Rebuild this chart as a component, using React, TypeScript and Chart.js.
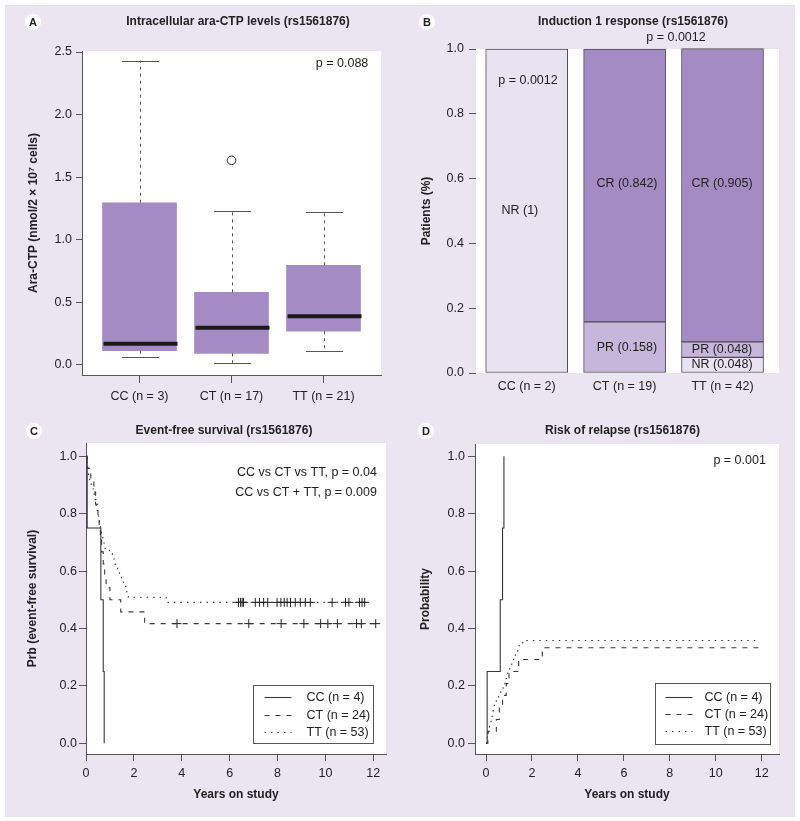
import React, { useEffect, useRef } from 'react';
import { Chart, registerables } from 'chart.js';
Chart.register(...registerables);

const FONT = '"Liberation Sans", Arial, Helvetica, sans-serif';
const TXT = '#222222';
const AXIS = '#555555';
const LAV = '#ebe5f1';
const BOX = '#a48bc4';
const PR_FILL = '#c7b6db';
const NR_FILL = '#e8e3f0';
const LINE = '#383838';

// ---------- Panel A: intracellular ara-CTP (boxplot) ----------
const groupsA = ['CC (n = 3)', 'CT (n = 17)', 'TT (n = 21)'];
const whiskerLowA = [0.064, 0.013, 0.112];
const q1A = [0.114, 0.093, 0.27];
const medianA = [0.17, 0.298, 0.39];
const q3A = [1.296, 0.58, 0.796];
const whiskerHighA = [2.43, 1.227, 1.222];
const outlierGroupA = [2];
const outlierValueA = [1.635];
const yTicksA = [0, 0.5, 1, 1.5, 2, 2.5];
const pValueA = 'p = 0.088';

// ---------- Panel B: induction 1 response (stacked bars) ----------
const groupsB = ['CC (n = 2)', 'CT (n = 19)', 'TT (n = 42)'];
const nrB = [1, null, 0.048];
const prB = [null, 0.158, 0.048];
const crB = [null, 0.842, 0.905];
const yTicksB = [0, 0.2, 0.4, 0.6, 0.8, 1];
const pValueB = 'p = 0.0012';

// ---------- Panel C: event-free survival ----------
const ccEfsTime = [0, 0.05, 0.62, 0.72, 0.76];
const ccEfsSurv = [1, 0.75, 0.5, 0.25, 0];
const ctEfsTime = [0, 0.05, 0.2, 0.33, 0.4, 0.5, 0.55, 0.6, 0.65, 0.72, 0.78, 0.84, 1.0, 1.45, 2.45, 12.15];
const ctEfsSurv = [1, 0.958, 0.917, 0.875, 0.833, 0.792, 0.75, 0.708, 0.667, 0.625, 0.583, 0.542, 0.5, 0.458, 0.417, 0.417];
const ttEfsTime = [0, 0.02, 0.05, 0.08, 0.1, 0.15, 0.22, 0.3, 0.36, 0.42, 0.46, 0.49, 0.52, 0.56, 0.6, 0.64, 0.7, 0.8, 0.98, 1.1, 1.22, 1.32, 1.4, 1.48, 1.56, 1.66, 1.77, 3.35, 11.8];
const ttEfsSurv = [1, 0.981, 0.962, 0.943, 0.925, 0.906, 0.887, 0.868, 0.849, 0.83, 0.811, 0.792, 0.774, 0.755, 0.736, 0.717, 0.698, 0.679, 0.66, 0.642, 0.623, 0.604, 0.585, 0.566, 0.547, 0.528, 0.509, 0.491, 0.491];
const ctEfsCensor = [3.8, 6.8, 8.15, 9.1, 9.8, 10.1, 10.5, 11.3, 11.5, 12.1];
const ttEfsCensor = [6.37, 6.45, 6.52, 6.58, 7.07, 7.25, 7.42, 7.59, 7.98, 8.14, 8.28, 8.4, 8.54, 8.74, 8.95, 9.16, 9.37, 10.28, 10.84, 10.98, 11.42, 11.53, 11.64];
const efsNotes = ['CC vs CT vs TT, p = 0.04', 'CC vs CT + TT, p = 0.009'];

// ---------- Panel D: risk of relapse ----------
const ccRelTime = [0, 0.05, 0.62, 0.72, 0.78];
const ccRelProb = [0, 0.25, 0.5, 0.75, 1.0];
const ctRelTime = [0, 0.08, 0.45, 0.58, 0.72, 0.88, 1.0, 1.42, 2.45, 11.9];
const ctRelProb = [0, 0.042, 0.083, 0.125, 0.167, 0.208, 0.25, 0.292, 0.333, 0.333];
const ttRelTime = [0, 0.02, 0.05, 0.1, 0.15, 0.22, 0.3, 0.36, 0.45, 0.55, 0.64, 0.74, 0.83, 0.93, 1.03, 1.12, 1.2, 1.28, 1.38, 1.6, 11.8];
const ttRelProb = [0, 0.019, 0.038, 0.057, 0.075, 0.094, 0.113, 0.132, 0.151, 0.17, 0.189, 0.208, 0.226, 0.245, 0.264, 0.283, 0.302, 0.321, 0.34, 0.358, 0.358];
const pValueD = 'p = 0.001';

const kmLabels = ['CC (n = 4)', 'CT (n = 24)', 'TT (n = 53)'];
const xTicksKM = [0, 2, 4, 6, 8, 10, 12];
const yTicksKM = [0, 0.2, 0.4, 0.6, 0.8, 1];

// ---------- helpers ----------
const f = (size: number, weight: string = 'normal') => ({ family: FONT, size, weight });
const pts = (xs: number[], ys: number[]) => xs.map((x, i) => ({ x, y: ys[i] }));
const levelAt = (ts: number[], vs: number[], t: number) => {
  let v = vs[0];
  for (let i = 0; i < ts.length; i++) if (ts[i] <= t) v = vs[i];
  return v;
};
const fixedTicks = (values: number[]) => (scale: any) => {
  scale.ticks = values.map((v) => ({ value: v }));
};

function yScale(o: any) {
  return {
    type: 'linear', position: 'left', min: o.min, max: o.max, bounds: 'data',
    stacked: !!o.stacked,
    afterBuildTicks: fixedTicks(o.ticks),
    afterFit: (s: any) => { s.width = o.width; },
    grid: { display: true, drawOnChartArea: false, drawTicks: true, tickLength: o.tickLength, tickColor: AXIS, tickWidth: 1 },
    border: { display: o.border !== false, color: AXIS, width: 1 },
    ticks: { autoSkip: false, maxRotation: 0, minRotation: 0, font: f(12.5), color: TXT, padding: o.pad, callback: (v: any) => Number(v).toFixed(1) },
    title: { display: true, text: o.title, font: f(12, 'bold'), color: TXT, padding: { top: o.titlePad, bottom: 0 } },
  };
}

function xScale(o: any) {
  const ticksOn = o.drawTicks !== false;
  return {
    type: 'linear', position: 'bottom', min: o.min, max: o.max, bounds: 'data', offset: false,
    stacked: !!o.stacked,
    afterBuildTicks: fixedTicks(o.ticks),
    afterFit: (s: any) => { s.height = o.height; },
    grid: { display: ticksOn, offset: false, drawOnChartArea: false, drawTicks: ticksOn, tickLength: ticksOn ? o.tickLength : 0, tickColor: AXIS, tickWidth: 1 },
    border: { display: o.border !== false, color: AXIS, width: 1 },
    ticks: { autoSkip: false, maxRotation: 0, minRotation: 0, font: f(12.5), color: TXT, padding: o.pad, callback: o.callback },
    title: o.title
      ? { display: true, text: o.title, font: f(12, 'bold'), color: TXT, padding: { top: 0, bottom: o.titlePad } }
      : { display: false },
  };
}

// Panel decorations: plot background, panel letter, title, notes, legend
function makeDecor(cfg: any) {
  return {
    id: 'panelDecor',
    beforeDraw(chart: any) {
      const { ctx, chartArea: a } = chart;
      ctx.save();
      ctx.fillStyle = '#ffffff';
      ctx.fillRect(a.left, a.top, a.right - a.left, a.bottom - a.top);
      ctx.restore();
    },
    afterDraw(chart: any) {
      const { ctx, chartArea: a } = chart;
      const xs = chart.scales.x, ys = chart.scales.y;
      ctx.save();
      // letter badge
      ctx.fillStyle = '#ffffff';
      ctx.beginPath();
      ctx.arc(cfg.letterX, cfg.letterY, 8, 0, Math.PI * 2);
      ctx.fill();
      ctx.fillStyle = TXT;
      ctx.textAlign = 'center';
      ctx.textBaseline = 'middle';
      ctx.font = `bold 11px ${FONT}`;
      ctx.fillText(cfg.letter, cfg.letterX, cfg.letterY + 0.5);
      // title
      ctx.font = `bold 12px ${FONT}`;
      ctx.fillText(cfg.title, cfg.titleX, cfg.titleY);
      // notes in data coordinates
      ctx.font = `12.5px ${FONT}`;
      (cfg.notes || []).forEach((n: any) => {
        ctx.textAlign = n.align || 'center';
        ctx.fillText(n.text, xs.getPixelForValue(n.x), ys.getPixelForValue(n.y));
      });
      // legend
      if (cfg.legend) {
        const L = cfg.legend;
        const items = chart.data.datasets.filter((d: any) => d.inLegend);
        const bx = Math.round(a.right - L.insetRight - L.w) + 0.5;
        const by = Math.round(a.bottom - L.insetBottom - L.h) + 0.5;
        ctx.fillStyle = '#ffffff';
        ctx.fillRect(bx, by, L.w, L.h);
        ctx.strokeStyle = AXIS;
        ctx.lineWidth = 1;
        ctx.setLineDash([]);
        ctx.strokeRect(bx, by, L.w, L.h);
        items.forEach((d: any, k: number) => {
          const cy = Math.round(by + L.h / 2 + (k - (items.length - 1) / 2) * L.row) + 0.5;
          ctx.strokeStyle = d.borderColor;
          ctx.lineWidth = d.borderWidth;
          ctx.setLineDash(d.borderDash || []);
          ctx.beginPath();
          ctx.moveTo(bx + L.sampleStart, cy);
          ctx.lineTo(bx + L.sampleEnd, cy);
          ctx.stroke();
          ctx.setLineDash([]);
          ctx.fillStyle = TXT;
          ctx.textAlign = 'left';
          ctx.textBaseline = 'middle';
          ctx.font = `12.5px ${FONT}`;
          ctx.fillText(d.label, bx + L.textStart, cy);
        });
      }
      ctx.restore();
    },
  };
}

// Whiskers, caps and medians for the boxplot
const boxWhiskers = {
  id: 'boxWhiskers',
  afterDatasetsDraw(chart: any) {
    const { ctx } = chart;
    const xs = chart.scales.x, ys = chart.scales.y;
    const boxW = 74, capW = 37;
    ctx.save();
    groupsA.forEach((_, i) => {
      const cx = Math.round(xs.getPixelForValue(i + 1)) + 0.5;
      const yLo = ys.getPixelForValue(whiskerLowA[i]);
      const yQ1 = ys.getPixelForValue(q1A[i]);
      const yMed = ys.getPixelForValue(medianA[i]);
      const yQ3 = ys.getPixelForValue(q3A[i]);
      const yHi = ys.getPixelForValue(whiskerHighA[i]);
      ctx.strokeStyle = AXIS;
      ctx.lineWidth = 1;
      ctx.setLineDash([3, 4]);
      ctx.beginPath();
      ctx.moveTo(cx, yQ3); ctx.lineTo(cx, yHi);
      ctx.moveTo(cx, yQ1); ctx.lineTo(cx, yLo);
      ctx.stroke();
      ctx.setLineDash([]);
      ctx.beginPath();
      ctx.moveTo(cx - capW / 2, Math.round(yHi) + 0.5); ctx.lineTo(cx + capW / 2, Math.round(yHi) + 0.5);
      ctx.moveTo(cx - capW / 2, Math.round(yLo) + 0.5); ctx.lineTo(cx + capW / 2, Math.round(yLo) + 0.5);
      ctx.stroke();
      ctx.strokeStyle = '#1a1a1a';
      ctx.lineWidth = 4;
      ctx.beginPath();
      ctx.moveTo(cx - boxW / 2, yMed); ctx.lineTo(cx + boxW / 2, yMed);
      ctx.stroke();
    });
    ctx.restore();
  },
};

const baseOpts = {
  animation: false,
  responsive: false,
  maintainAspectRatio: false,
  devicePixelRatio: 1,
  events: [],
};

function configA(): any {
  return {
    type: 'bar',
    data: {
      datasets: [
        {
          type: 'bar', label: 'IQR',
          data: groupsA.map((_, i) => ({ x: i + 1, y: [q1A[i], q3A[i]] })),
          backgroundColor: BOX, borderWidth: 0, barThickness: 74,
        },
        {
          type: 'scatter', label: 'Outliers',
          data: outlierGroupA.map((g, i) => ({ x: g, y: outlierValueA[i] })),
          pointRadius: 4.3, pointBackgroundColor: '#ffffff', pointBorderColor: '#333333', pointBorderWidth: 1,
        },
      ],
    },
    options: {
      ...baseOpts,
      layout: { padding: { left: 10, right: 19, top: 51, bottom: 5 } },
      scales: {
        x: xScale({ min: 0.375, max: 3.625, ticks: [1, 2, 3], height: 30, tickLength: 8, pad: 6, callback: (_v: any, i: number) => groupsA[i] }),
        y: yScale({ min: -0.08, max: 2.508, ticks: yTicksA, width: 72, tickLength: 6, pad: 4, title: 'Ara-CTP (nmol/2 × 10⁷ cells)', titlePad: 16.3 }),
      },
      plugins: { legend: { display: false }, tooltip: { enabled: false } },
    },
    plugins: [
      makeDecor({
        letter: 'A', letterX: 33, letterY: 22,
        title: 'Intracellular ara-CTP levels (rs1561876)', titleX: 238, titleY: 22,
        notes: [{ text: pValueA, x: 3.487, y: 2.404, align: 'right' }],
      }),
      boxWhiskers,
    ],
  };
}

function configB(): any {
  const series: [string, (number | null)[], string][] = [['NR', nrB, NR_FILL], ['PR', prB, PR_FILL], ['CR', crB, BOX]];
  // label anchors (layout, in data units)
  const labelAt: Record<string, [number, number]> = {
    'NR-0': [0.93, 0.5], 'PR-1': [2.024, 0.08], 'CR-1': [2.024, 0.586],
    'NR-2': [2.995, 0.027], 'PR-2': [2.995, 0.073], 'CR-2': [2.995, 0.586],
  };
  const notes: any[] = [
    { text: pValueB, x: 1.013, y: 0.902 },
    { text: pValueB, x: 2.525, y: 1.035 },
  ];
  series.forEach(([name, vals]) => vals.forEach((v, i) => {
    const p = labelAt[`${name}-${i}`];
    if (v != null && p) notes.push({ text: `${name} (${v})`, x: p[0], y: p[1] });
  }));
  return {
    type: 'bar',
    data: {
      datasets: series.map(([name, vals, color]) => ({
        label: name,
        data: vals.map((v, i) => ({ x: i + 1, y: v })).filter((d) => d.y != null),
        backgroundColor: color, borderColor: '#4d4d4d', borderWidth: 1, borderSkipped: false,
        barThickness: 82, clip: 4,
      })),
    },
    options: {
      ...baseOpts,
      layout: { padding: { left: 10, right: 21, top: 49, bottom: 5 } },
      scales: {
        x: xScale({ min: 0.482, max: 3.577, ticks: [1, 2, 3], height: 32, drawTicks: false, border: false, pad: 6.5, stacked: true, callback: (_v: any, i: number) => groupsB[i] }),
        y: yScale({ min: 0, max: 1, ticks: yTicksB, width: 66, tickLength: 7, pad: 5, border: false, stacked: true, title: 'Patients (%)', titlePad: 9.3 }),
      },
      plugins: { legend: { display: false }, tooltip: { enabled: false } },
    },
    plugins: [
      makeDecor({
        letter: 'B', letterX: 27, letterY: 22,
        title: 'Induction 1 response (rs1561876)', titleX: 233, titleY: 22,
        notes,
      }),
    ],
  };
}

function kmLine(label: string, data: any[], dash: number[]) {
  return {
    label, data, showLine: true, stepped: 'before', inLegend: true,
    borderColor: LINE, borderWidth: 1.1, borderDash: dash, pointRadius: 0, fill: false,
  };
}
function censorSet(label: string, data: any[]) {
  return {
    label, data, showLine: false, pointStyle: 'cross', pointRadius: 4.5,
    pointBorderColor: '#222222', pointBorderWidth: 1, borderColor: '#222222',
  };
}

const DASH = [5, 6];
const DOT = [1.5, 5];

function configC(): any {
  return {
    type: 'scatter',
    data: {
      datasets: [
        kmLine(kmLabels[0], pts(ccEfsTime, ccEfsSurv), []),
        kmLine(kmLabels[1], pts(ctEfsTime, ctEfsSurv), DASH),
        kmLine(kmLabels[2], pts(ttEfsTime, ttEfsSurv), DOT),
        censorSet('CT censored', ctEfsCensor.map((t) => ({ x: t, y: levelAt(ctEfsTime, ctEfsSurv, t) }))),
        censorSet('TT censored', ttEfsCensor.map((t) => ({ x: t, y: levelAt(ttEfsTime, ttEfsSurv, t) }))),
      ],
    },
    options: {
      ...baseOpts,
      layout: { padding: { left: 10, right: 14, top: 33, bottom: 5 } },
      scales: {
        x: xScale({ min: 0, max: 12.53, ticks: xTicksKM, height: 62, tickLength: 7, pad: 5.5, title: 'Years on study', titlePad: 13.8, callback: (v: any) => String(v) }),
        y: yScale({ min: -0.0373, max: 1.0463, ticks: yTicksKM, width: 76, tickLength: 7, pad: 2, title: 'Prb (event-free survival)', titlePad: 15.8 }),
      },
      plugins: { legend: { display: false }, tooltip: { enabled: false } },
    },
    plugins: [
      makeDecor({
        letter: 'C', letterX: 34, letterY: 21,
        title: 'Event-free survival (rs1561876)', titleX: 224, titleY: 21,
        notes: [
          { text: efsNotes[0], x: 12.15, y: 0.942, align: 'right' },
          { text: efsNotes[1], x: 12.15, y: 0.872, align: 'right' },
        ],
        legend: { w: 120, h: 58, insetRight: 12.7, insetBottom: 10.7, row: 17.5, sampleStart: 11, sampleEnd: 38, textStart: 53 },
      }),
    ],
  };
}

function configD(): any {
  return {
    type: 'scatter',
    data: {
      datasets: [
        kmLine(kmLabels[0], pts(ccRelTime, ccRelProb), []),
        kmLine(kmLabels[1], pts(ctRelTime, ctRelProb), DASH),
        kmLine(kmLabels[2], pts(ttRelTime, ttRelProb), DOT),
      ],
    },
    options: {
      ...baseOpts,
      layout: { padding: { left: 10, right: 21, top: 34, bottom: 5 } },
      scales: {
        x: xScale({ min: -0.479, max: 12.75, ticks: xTicksKM, height: 62, tickLength: 7, pad: 5.5, title: 'Years on study', titlePad: 13.8, callback: (v: any) => String(v) }),
        y: yScale({ min: -0.0373, max: 1.0429, ticks: yTicksKM, width: 65, tickLength: 7, pad: 3, title: 'Probability', titlePad: 8.8 }),
      },
      plugins: { legend: { display: false }, tooltip: { enabled: false } },
    },
    plugins: [
      makeDecor({
        letter: 'D', letterX: 26, letterY: 21,
        title: 'Risk of relapse (rs1561876)', titleX: 222.5, titleY: 21,
        notes: [{ text: pValueD, x: 12.18, y: 0.985, align: 'right' }],
        legend: { w: 115, h: 61, insetRight: 9, insetBottom: 10, row: 17, sampleStart: 10, sampleEnd: 37, textStart: 49 },
      }),
    ],
  };
}

function ChartCanvas({ left, top, width, height, make }: any) {
  const ref = useRef<HTMLCanvasElement | null>(null);
  useEffect(() => {
    const chart = new Chart(ref.current as HTMLCanvasElement, make());
    return () => chart.destroy();
  }, []);
  return (
    <canvas
      ref={ref}
      width={width}
      height={height}
      style={{ position: 'absolute', left, top, width, height }}
    />
  );
}

export default function App() {
  return (
    <div style={{ position: 'absolute', left: 0, top: 0, width: 800, height: 821, background: '#ffffff', overflow: 'hidden' }}>
      <div style={{ position: 'absolute', left: 5, top: 5, width: 790, height: 812, background: LAV }} />
      <ChartCanvas left={0} top={0} width={400} height={410} make={configA} />
      <ChartCanvas left={400} top={0} width={400} height={410} make={configB} />
      <ChartCanvas left={0} top={410} width={400} height={411} make={configC} />
      <ChartCanvas left={400} top={410} width={400} height={411} make={configD} />
    </div>
  );
}
